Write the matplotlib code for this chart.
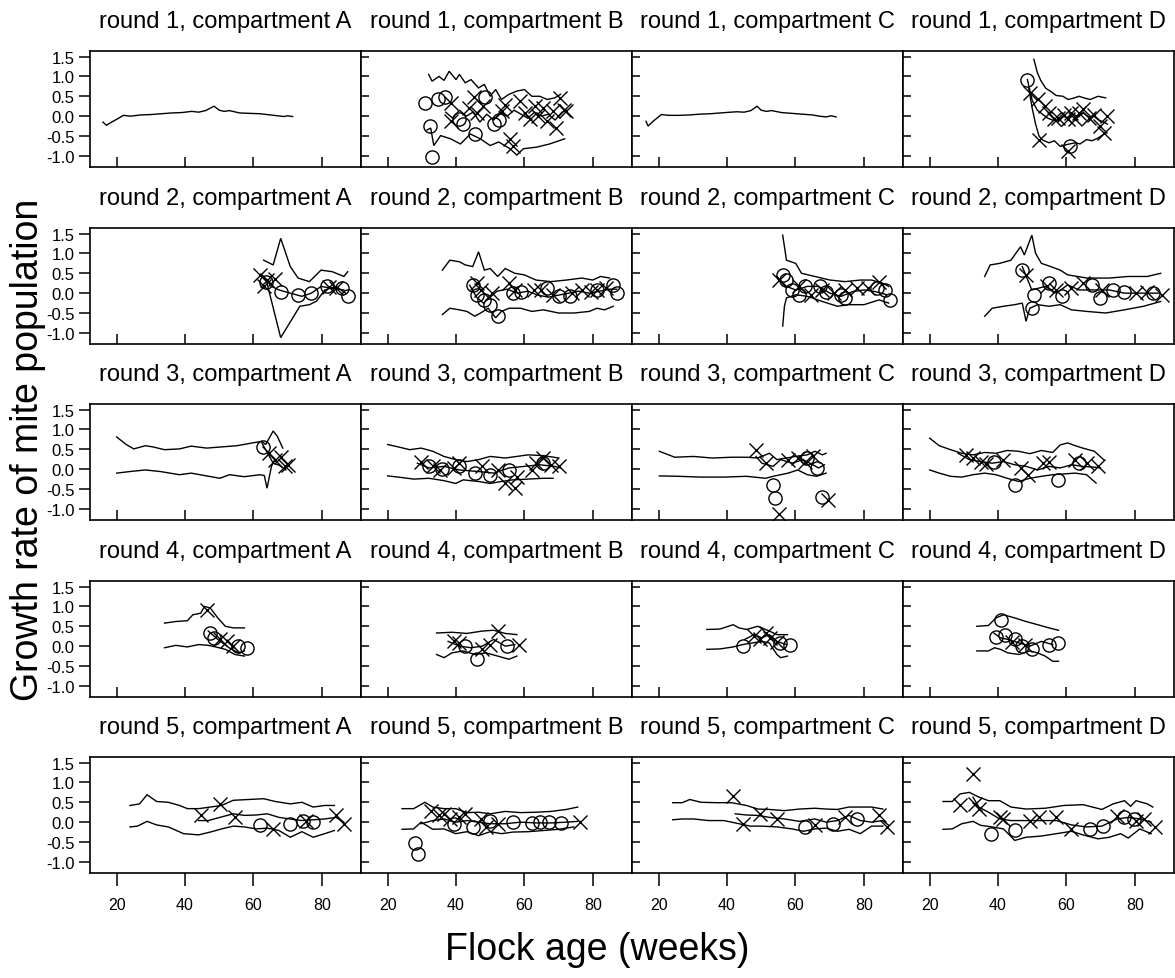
import matplotlib
matplotlib.use('Agg')
import matplotlib.pyplot as plt

plt.rcParams['font.family'] = ['Liberation Sans', 'DejaVu Sans']
plt.rcParams['axes.unicode_minus'] = False

rounds = [1, 2, 3, 4, 5]
compartments = ['A', 'B', 'C', 'D']
x_ticks = [20, 40, 60, 80]
y_ticks = [-1.0, -0.5, 0.0, 0.5, 1.0, 1.5]
y_tick_labels = ['-1.0', '-0.5', '0.0', '0.5', '1.0', '1.5']
x_label = 'Flock age (weeks)'
y_label = 'Growth rate of mite population'

# ---------------- round 1 ----------------
r1A_mid_x = [16, 17, 18.5, 20, 22, 24, 27, 30, 33, 36, 39, 42, 44, 46, 48.5, 50, 51.5, 53, 56, 59, 62, 65, 67, 69, 70, 71.5]
r1A_mid_y = [-0.15, -0.23, -0.15, -0.08, 0.02, 0.0, 0.03, 0.04, 0.06, 0.08, 0.09, 0.12, 0.1, 0.14, 0.25, 0.15, 0.12, 0.14, 0.08, 0.07, 0.06, 0.03, 0.01, -0.01, 0.01, -0.01]

r1B_up_x = [32, 33, 35, 36.5, 38, 40, 41, 42.7, 44.4, 46.6, 48.3, 50, 51.6, 53.3, 55.5, 57.8, 60, 62.2, 64.5, 66.7, 68.9, 70.6]
r1B_up_y = [1.05, 0.88, 1.0, 0.9, 1.13, 0.92, 1.05, 0.84, 0.92, 0.71, 0.8, 0.5, 0.67, 0.42, 0.55, 0.63, 0.67, 0.5, 0.5, 0.42, 0.46, 0.55]
r1B_lo_x = [31.5, 32.6, 33.5, 35.5, 38.4, 41.3, 44.2, 47.1, 50, 52.5, 55.8, 57.8, 59.7, 63.6, 67.4, 71.8]
r1B_lo_y = [-0.35, -0.3, -0.74, -0.49, -0.57, -0.7, -0.45, -0.57, -0.74, -0.65, -0.82, -0.98, -0.82, -0.78, -0.7, -0.57]
r1B_mid_x = [37, 39, 41, 43, 45, 47, 49, 51, 53, 55, 57, 59, 61, 63, 65, 67, 69, 71, 72.5]
r1B_mid_y = [0.1, -0.05, 0.15, 0.0, 0.1, -0.15, 0.05, -0.1, 0.1, 0.0, 0.15, 0.05, -0.05, 0.1, 0.0, 0.05, -0.1, 0.1, 0.15]
r1B_circ_x = [30.8, 32.3, 33.1, 34.7, 36.9, 40.8, 42.1, 45.7, 48.6, 51, 52.5]
r1B_circ_y = [0.33, -0.26, -1.02, 0.43, 0.49, -0.08, -0.2, -0.45, 0.49, -0.2, -0.1]
r1B_cross_x = [38.4, 38.4, 43.7, 45.2, 46.1, 48, 53.4, 54.4, 55.8, 56.8, 58.7, 60.2, 61.6, 63, 64, 65.5, 66.5, 68.4, 69.4, 70.3, 71.5, 72.3]
r1B_cross_y = [0.33, -0.12, 0.2, 0.49, 0.08, 0.25, 0.12, 0.29, -0.57, -0.74, 0.37, 0.08, -0.08, 0.25, 0.0, 0.2, -0.12, 0.12, -0.29, 0.45, 0.15, 0.12]

r1C_mid_x = [16.3, 16.9, 18.5, 20.8, 23, 26, 29, 32, 35, 38, 41, 43, 45, 47, 48.8, 50, 51.5, 53, 56, 59, 62, 65, 67, 69, 70.5, 71.9]
r1C_mid_y = [-0.13, -0.25, -0.12, 0.04, 0.02, 0.02, 0.03, 0.05, 0.06, 0.08, 0.1, 0.11, 0.1, 0.14, 0.25, 0.15, 0.12, 0.14, 0.09, 0.07, 0.05, 0.03, 0.0, -0.02, 0.01, -0.02]

r1D_up_x = [50.5, 51.5, 52.5, 54, 55.5, 57, 59, 60.5, 62, 63.7, 65.5, 67, 69.3, 71.5]
r1D_up_y = [1.43, 1.1, 0.9, 0.7, 0.62, 0.52, 0.5, 0.42, 0.45, 0.5, 0.45, 0.42, 0.5, 0.46]
r1D_lo_x = [49, 50, 51, 52, 53, 54.9, 56.5, 58.2, 60.4, 62.6, 64, 65.9, 67.5, 69.3, 71.5]
r1D_lo_y = [0.7, 0.2, -0.2, -0.5, -0.6, -0.67, -0.62, -0.76, -0.71, -0.67, -0.7, -0.59, -0.62, -0.55, -0.42]
r1D_mid_x = [48.6, 50, 51.5, 53, 54.5, 56, 57.5, 59, 60.5, 62, 63.5, 65, 66.5, 68, 69.5, 71, 72]
r1D_mid_y = [0.92, 0.4, 0.15, 0.05, -0.05, -0.1, -0.12, 0.0, -0.05, 0.05, -0.02, 0.08, -0.02, 0.0, -0.1, -0.15, -0.2]
r1D_circ_x = [48.6, 61]
r1D_circ_y = [0.92, -0.76]
r1D_cross_x = [49.3, 51.6, 52.1, 53.8, 54.9, 56.5, 57.6, 59.3, 60.4, 61.5, 62.6, 63.7, 64.8, 66.5, 68.2, 69.8, 70.9, 72, 60.4]
r1D_cross_y = [0.59, 0.42, -0.59, 0.25, 0.08, -0.08, -0.04, 0.04, -0.08, 0.08, -0.08, 0.08, 0.17, -0.04, 0.04, -0.25, -0.42, 0.0, -0.88]

# ---------------- round 2 ----------------
r2A_up_x = [63, 65.8, 68, 70.8, 73.1, 76.4, 79.8, 83.1, 86.5, 87.6]
r2A_up_y = [0.83, 0.71, 1.38, 0.67, 0.38, 0.29, 0.58, 0.54, 0.42, 0.54]
r2A_lo_x = [64, 68, 73.6, 76.4, 78.5, 80.9, 84.2, 87]
r2A_lo_y = [0.25, -1.12, -0.33, -0.29, -0.2, 0.08, 0.17, 0.0]
r2A_mid_x = [63, 65.3, 67.5, 70.8, 74.2, 77, 79.8, 83.1, 86.5]
r2A_mid_y = [0.42, 0.17, 0.08, 0.0, -0.08, 0.0, 0.17, 0.12, 0.08]
r2A_circ_x = [63.6, 68, 73.1, 77, 81.5, 85.9, 87.6]
r2A_circ_y = [0.29, 0.04, -0.04, 0.0, 0.17, 0.12, -0.08]
r2A_cross_x = [61.9, 63, 64.1, 66.4, 82, 84.2]
r2A_cross_y = [0.46, 0.17, 0.33, 0.35, 0.15, 0.12]

r2B_up_x = [36, 38.2, 41, 42.7, 44.9, 46.6, 48.3, 50, 52.2, 54.4, 57.2, 60, 63.4, 67.8, 72.3, 76.8, 80, 82.3, 85]
r2B_up_y = [0.58, 0.83, 0.79, 0.71, 0.67, 1.04, 0.58, 0.62, 0.42, 0.62, 0.5, 0.46, 0.33, 0.29, 0.33, 0.38, 0.33, 0.42, 0.38]
r2B_lo_x = [36, 38.2, 41, 43.2, 45.5, 47.2, 49.4, 51.6, 53.3, 55.5, 58.9, 62.2, 65.6, 70, 74.5, 79, 81.2, 83.5, 86]
r2B_lo_y = [-0.54, -0.38, -0.42, -0.46, -0.58, -0.5, -0.38, -0.62, -0.46, -0.38, -0.38, -0.46, -0.42, -0.5, -0.5, -0.46, -0.38, -0.42, -0.33]
r2B_mid_x = [44, 46, 48, 50, 52, 55, 58, 61, 64, 67, 70, 73, 76, 79, 82, 85, 87]
r2B_mid_y = [0.2, -0.1, -0.25, -0.1, 0.05, 0.1, 0.0, 0.05, -0.05, -0.1, -0.05, 0.0, 0.05, 0.0, 0.05, 0.1, 0.1]
r2B_circ_x = [45.1, 46, 48.3, 50, 52.2, 56.6, 58.9, 66.7, 70, 73.3, 81.3, 86, 87]
r2B_circ_y = [0.21, -0.04, -0.17, -0.29, -0.58, 0.0, 0.04, 0.12, -0.08, -0.08, 0.08, 0.2, 0.0]
r2B_cross_x = [46, 47.2, 50.5, 55.5, 57.2, 62.8, 65, 68.4, 74, 76.8, 79.5, 81.2, 84]
r2B_cross_y = [0.25, 0.08, 0.0, 0.25, 0.08, 0.08, 0.08, -0.04, 0.0, 0.08, 0.04, 0.08, 0.12]

r2C_up_x = [56.3, 57.4, 60.1, 61.8, 65.7, 70.1, 74.5, 79, 82.3, 85.6, 87.3]
r2C_up_y = [1.46, 0.83, 0.75, 0.5, 0.42, 0.33, 0.29, 0.33, 0.33, 0.25, 0.17]
r2C_lo_x = [56.3, 56.8, 57.4, 60.1, 63.5, 67.9, 72.3, 75.7, 80.1, 84.5, 87.3]
r2C_lo_y = [-0.83, -0.33, -0.12, -0.04, -0.08, -0.21, -0.33, -0.29, -0.29, -0.17, -0.25]
r2C_mid_x = [54.6, 57.4, 60.1, 63.5, 66.8, 70.1, 73.4, 76.8, 80.1, 83.4, 86.7]
r2C_mid_y = [0.42, 0.17, 0.08, 0.17, 0.17, 0.0, -0.08, 0.04, 0.08, 0.04, -0.04]
r2C_circ_x = [56.3, 57.4, 59, 61.2, 62.9, 67.3, 68.9, 73.4, 74.5, 84, 86.2, 87.8]
r2C_circ_y = [0.46, 0.33, 0.08, -0.04, 0.17, 0.17, 0.04, -0.04, -0.12, 0.12, 0.08, -0.17]
r2C_cross_x = [55.2, 61.2, 64.6, 67.9, 71.2, 74.5, 77.9, 81.2, 84.5]
r2C_cross_y = [0.33, 0.17, -0.04, 0.08, 0.0, 0.08, 0.12, 0.12, 0.29]

r2D_up_x = [36.1, 37.7, 40.5, 43.8, 46.6, 47.7, 49.9, 51, 52.7, 55.4, 58.2, 60.4, 66, 72.6, 78.1, 83.7, 87.6]
r2D_up_y = [0.42, 0.71, 0.75, 0.83, 1.17, 0.96, 1.46, 1.0, 0.75, 0.67, 0.58, 0.46, 0.38, 0.38, 0.42, 0.42, 0.5]
r2D_lo_x = [36.1, 38.3, 41.6, 44.9, 47.1, 48.2, 49.3, 51.6, 54.9, 58.2, 61.5, 66, 71.5, 77, 82.6, 87.6]
r2D_lo_y = [-0.58, -0.38, -0.33, -0.29, -0.25, -0.71, -0.38, -0.29, -0.33, -0.29, -0.42, -0.46, -0.5, -0.42, -0.33, -0.21]
r2D_mid_x = [47.1, 49.9, 53.8, 57.1, 60.4, 63.7, 68.2, 72.6, 77, 81.5, 87]
r2D_mid_y = [0.67, 0.08, 0.17, 0.0, 0.21, 0.08, 0.08, 0.08, 0.0, 0.0, 0.0]
r2D_circ_x = [47.1, 49.9, 50.5, 54.9, 58.8, 67.6, 69.8, 73.7, 77, 85.3]
r2D_circ_y = [0.58, -0.38, -0.04, 0.25, -0.08, 0.21, -0.12, 0.08, 0.04, 0.0]
r2D_cross_x = [48.2, 54.3, 57.1, 61.5, 64.8, 70.4, 80.4, 83.7, 88]
r2D_cross_y = [0.46, 0.17, 0.08, 0.12, 0.25, 0.08, 0.0, 0.04, -0.04]

# ---------------- round 3 ----------------
r3A_up_x = [20, 22.8, 25, 28.4, 30.6, 34, 38.4, 41.8, 46.3, 50.7, 55.2, 59.7, 62.5, 63.6, 65.8, 67, 68.6]
r3A_up_y = [0.81, 0.62, 0.51, 0.59, 0.56, 0.49, 0.51, 0.58, 0.53, 0.56, 0.59, 0.66, 0.7, 0.62, 0.96, 0.83, 0.53]
r3A_lo_x = [20, 23.9, 28.4, 32.8, 38.4, 41.8, 46.3, 50.2, 53, 57.4, 61.9, 63.2, 64, 65.3, 66]
r3A_lo_y = [-0.1, -0.06, -0.02, -0.06, -0.14, -0.1, -0.17, -0.23, -0.14, -0.19, -0.14, -0.16, -0.48, 0.07, 0.2]
r3A_mid_x = [62.5, 64.1, 65.8, 67.5, 69.5]
r3A_mid_y = [0.66, 0.41, 0.15, 0.1, -0.02]
r3A_circ_x = [62.8]
r3A_circ_y = [0.56]
r3A_cross_x = [64.7, 66.4, 68, 69.2, 70]
r3A_cross_y = [0.41, 0.24, 0.3, 0.07, 0.1]

r3B_up_x = [20, 23.1, 26.5, 29.8, 33.2, 36.5, 39.9, 43.2, 46.6, 50, 54.4, 57.8, 61.1, 65.6, 70.1]
r3B_up_y = [0.62, 0.56, 0.49, 0.53, 0.45, 0.32, 0.24, 0.19, 0.24, 0.32, 0.28, 0.32, 0.36, 0.34, 0.28]
r3B_lo_x = [20, 23.1, 27.6, 32.1, 36.5, 39.9, 42.1, 46.6, 50, 53.3, 56.6, 61.1, 65.6, 68.4]
r3B_lo_y = [-0.17, -0.2, -0.25, -0.23, -0.29, -0.36, -0.27, -0.31, -0.36, -0.31, -0.27, -0.25, -0.23, -0.23]
r3B_mid_x = [28.7, 32.1, 36.5, 41, 46.6, 51.1, 55.5, 60, 64.5, 68.9, 70.6]
r3B_mid_y = [0.15, 0.03, 0.07, -0.02, -0.06, -0.1, 0.03, 0.07, 0.11, 0.07, 0.03]
r3B_circ_x = [32.1, 36, 41, 45.5, 50, 55.5, 65.6]
r3B_circ_y = [0.07, 0.0, 0.07, -0.1, -0.14, -0.02, 0.15]
r3B_cross_x = [29.8, 33.2, 35.4, 39.3, 41, 47.7, 52.2, 54.4, 57.2, 57.8, 62.2, 63.4, 65.6, 67.8, 70.1]
r3B_cross_y = [0.19, 0.07, -0.02, 0.02, 0.15, 0.07, -0.02, -0.36, -0.48, -0.19, -0.02, 0.15, 0.28, 0.11, 0.07]

r3C_up_x = [20.2, 24.7, 30.2, 35.7, 41.3, 45.7, 49, 52.4, 54.6, 57.4, 60.1, 63.5, 65.7, 67.9, 69]
r3C_up_y = [0.45, 0.3, 0.32, 0.28, 0.3, 0.3, 0.28, 0.4, 0.24, 0.28, 0.32, 0.36, 0.45, 0.36, 0.4]
r3C_lo_x = [20.2, 25.8, 32.4, 39.1, 45.7, 51.3, 53.5, 55.7, 57.9, 60.7, 63.5, 66.2, 69]
r3C_lo_y = [-0.17, -0.18, -0.2, -0.2, -0.18, -0.23, -0.18, -0.14, -0.1, -0.02, -0.14, -0.18, -0.1]
r3C_mid_x = [48.5, 50.2, 53.5, 55.7, 59, 62.3, 66.8, 68.5]
r3C_mid_y = [0.32, 0.15, 0.07, 0.24, 0.15, 0.24, 0.03, 0.11]
r3C_circ_x = [53.5, 54, 63.5, 66.2, 67.9]
r3C_circ_y = [-0.39, -0.73, 0.28, 0.03, -0.69]
r3C_cross_x = [48.5, 51.3, 57.9, 60.7, 62.9, 65.1, 55.2, 69.6]
r3C_cross_y = [0.49, 0.15, 0.24, 0.28, 0.19, 0.32, -1.13, -0.77]

r3D_up_x = [20, 22.8, 26.1, 29.4, 32.7, 36.1, 39.4, 42.7, 46, 49.3, 52.7, 56, 58.2, 60.4, 62.6, 64.8, 68.2, 70.9]
r3D_up_y = [0.78, 0.59, 0.49, 0.4, 0.36, 0.42, 0.4, 0.47, 0.45, 0.39, 0.47, 0.42, 0.61, 0.66, 0.59, 0.53, 0.45, 0.24]
r3D_lo_x = [20, 22.8, 26.1, 29.4, 32.7, 36.1, 39.4, 42.7, 46, 49.3, 52.7, 56, 59.3, 62.6, 65.9, 68.7]
r3D_lo_y = [-0.02, -0.1, -0.18, -0.2, -0.14, -0.1, -0.14, -0.23, -0.31, -0.23, -0.18, -0.14, -0.12, -0.1, -0.14, -0.35]
r3D_mid_x = [28.3, 31.6, 34.9, 38.3, 41.6, 44.9, 48.2, 51.6, 54.9, 58.2, 61.5, 64.8, 68.2, 70]
r3D_mid_y = [0.4, 0.24, 0.19, 0.15, 0.19, 0.11, 0.07, -0.02, 0.07, 0.03, 0.11, 0.07, 0.05, 0.03]
r3D_circ_x = [38.8, 44.9, 57.6, 63.7]
r3D_circ_y = [0.19, -0.39, -0.27, 0.15]
r3D_cross_x = [30.5, 32.7, 34.9, 36.5, 41.6, 46.6, 48.8, 53.2, 54.9, 62.6, 65.9, 69.3]
r3D_cross_y = [0.36, 0.28, 0.19, 0.12, 0.24, 0.03, -0.14, 0.15, 0.19, 0.24, 0.15, 0.07]

# ---------------- round 4 ----------------
r4A_up_x = [34, 37.3, 40.7, 42.3, 44.6, 45.7, 47.4, 49.6, 51.8, 54.1, 57.4]
r4A_up_y = [0.58, 0.62, 0.64, 0.79, 0.83, 1.0, 0.96, 0.71, 0.5, 0.46, 0.46]
r4A_lo_x = [34, 37.3, 40.7, 44, 46.8, 49, 51.8, 54.6, 57.4]
r4A_lo_y = [-0.04, 0.02, -0.02, 0.04, 0.02, -0.02, -0.08, -0.21, -0.25]
r4A_mid_x = [46.8, 49.6, 52.9, 55.7, 57.4]
r4A_mid_y = [0.38, 0.17, -0.04, -0.17, -0.12]
r4A_circ_x = [47.2, 48.5, 55.5, 58]
r4A_circ_y = [0.33, 0.21, 0.0, -0.04]
r4A_cross_x = [46.3, 50.2, 52.4, 54.1]
r4A_cross_y = [0.92, 0.17, 0.12, 0.0]

r4B_up_x = [34.3, 38.8, 43.2, 47.7, 51, 54.4, 57.8]
r4B_up_y = [0.33, 0.35, 0.32, 0.38, 0.4, 0.32, 0.29]
r4B_lo_x = [34.3, 36.5, 38.8, 42.1, 45.5, 48.8, 52.2, 55.5, 57.8]
r4B_lo_y = [-0.21, -0.29, -0.17, -0.12, -0.21, -0.17, -0.25, -0.33, -0.25]
r4B_mid_x = [37.7, 41, 44.4, 47.7, 51, 54.4, 57.2]
r4B_mid_y = [0.12, 0.0, -0.04, 0.0, 0.17, 0.0, 0.04]
r4B_circ_x = [42.7, 46, 55]
r4B_circ_y = [0.0, -0.33, 0.0]
r4B_cross_x = [39.3, 41, 47.7, 50, 52.2, 58.3]
r4B_cross_y = [0.12, 0.08, -0.08, 0.04, 0.38, 0.04]

r4C_up_x = [34.1, 37.9, 41.8, 43.5, 45.7, 49, 52.4, 54.6, 57.7]
r4C_up_y = [0.42, 0.43, 0.54, 0.46, 0.42, 0.5, 0.38, 0.29, 0.29]
r4C_lo_x = [34.1, 37.9, 41.8, 44.6, 47.4, 50.2, 52.4, 54.6, 55.7, 57.7]
r4C_lo_y = [-0.08, -0.07, -0.02, 0.04, 0.08, 0.12, 0.08, -0.21, -0.29, -0.25]
r4C_mid_x = [45.2, 47.9, 50.2, 52.4, 54.6, 57.4]
r4C_mid_y = [0.17, 0.29, 0.21, 0.29, 0.12, 0.04]
r4C_circ_x = [44.8, 55.5, 58.5]
r4C_circ_y = [0.0, 0.08, 0.04]
r4C_cross_x = [47.9, 49.6, 51.3, 52.5, 54.6]
r4C_cross_y = [0.25, 0.17, 0.33, 0.2, 0.1]

r4D_up_x = [33.8, 37.2, 39.4, 41.6, 44.9, 48.2, 51.6, 54.9, 57.7]
r4D_up_y = [0.5, 0.52, 0.71, 0.79, 0.71, 0.62, 0.54, 0.46, 0.4]
r4D_lo_x = [33.8, 37.2, 39, 40.7, 42.9, 46.2, 49.3, 51.6, 53.8, 56, 57.7]
r4D_lo_y = [-0.12, -0.12, -0.04, -0.08, -0.17, -0.21, -0.12, -0.17, -0.25, -0.38, -0.38]
r4D_mid_x = [38.8, 40.7, 42.9, 46.2, 49.3, 52.7, 56]
r4D_mid_y = [0.33, 0.21, 0.17, 0.08, 0.0, 0.12, 0.04]
r4D_circ_x = [40.8, 39.4, 42.1, 44.9, 46.9, 49.9, 54.9, 57.7]
r4D_circ_y = [0.65, 0.23, 0.27, 0.17, 0.0, -0.07, 0.02, 0.08]
r4D_cross_x = [44, 48]
r4D_cross_y = [0.1, 0.02]

# ---------------- round 5 ----------------
r5A_up_x = [23.9, 26.7, 28.9, 31.7, 35.1, 38.4, 40.7, 44, 47.4, 50.7, 54.1, 58.5, 63, 66.4, 70.8, 74.2, 77.5, 80.9, 83.7]
r5A_up_y = [0.42, 0.46, 0.69, 0.52, 0.5, 0.42, 0.34, 0.34, 0.38, 0.42, 0.55, 0.57, 0.59, 0.52, 0.46, 0.5, 0.38, 0.42, 0.42]
r5A_lo_x = [23.9, 26.1, 28.9, 31.7, 35.1, 39.6, 44, 47.4, 50.7, 54.1, 57.4, 60.8, 64.1, 67.5, 70.8, 74.2, 77.5, 80.9, 83.7]
r5A_lo_y = [-0.12, -0.1, 0.02, -0.07, -0.12, -0.29, -0.32, -0.25, -0.17, -0.1, -0.12, -0.17, -0.15, -0.21, -0.38, -0.24, -0.38, -0.29, -0.21]
r5A_mid_x = [44, 46.8, 50.2, 54.1, 57.4, 60.8, 64.1, 67.5, 70.8, 74.2, 77.5, 80.9, 84.2, 86.5]
r5A_mid_y = [0.04, 0.04, 0.12, 0.21, 0.17, 0.18, 0.21, 0.12, 0.08, 0.04, 0.06, 0.08, 0.12, 0.0]
r5A_circ_x = [61.9, 70.8, 74.5, 77.5]
r5A_circ_y = [-0.08, -0.04, 0.02, 0.0]
r5A_cross_x = [44.6, 50.2, 54.6, 65.8, 75.3, 84.2, 86.5]
r5A_cross_y = [0.17, 0.46, 0.12, -0.17, 0.04, 0.17, -0.04]

r5B_up_x = [24.2, 27.6, 30.9, 33.2, 36.5, 39.9, 43.2, 46.6, 50, 54.4, 58.9, 63.4, 67.8, 72.3, 75.6]
r5B_up_y = [0.34, 0.34, 0.5, 0.38, 0.34, 0.34, 0.24, 0.25, 0.21, 0.27, 0.24, 0.25, 0.27, 0.32, 0.38]
r5B_lo_x = [24.2, 27.6, 29.8, 33.2, 36.5, 39.9, 43.2, 46.6, 50, 53.3, 56.6, 61.1, 65.6, 70, 74.5]
r5B_lo_y = [-0.18, -0.17, 0.0, -0.18, -0.17, -0.29, -0.24, -0.34, -0.24, -0.29, -0.25, -0.24, -0.21, -0.18, -0.12]
r5B_mid_x = [29.8, 33.2, 36.5, 39.9, 43.2, 46.6, 50, 54.4, 58.9, 63.4, 67.8, 72.3, 75.6]
r5B_mid_y = [-0.04, 0.04, 0.08, 0.0, 0.04, 0.0, -0.04, -0.04, 0.0, -0.02, -0.02, 0.0, 0.02]
r5B_circ_x = [27.9, 29, 39.3, 44.9, 50, 56.6, 62.2, 64.5, 67.3, 70.6]
r5B_circ_y = [-0.52, -0.8, -0.04, -0.12, 0.02, 0.0, -0.02, 0.0, 0.0, -0.02]
r5B_cross_x = [32.6, 34.9, 36.5, 38.2, 41, 42.7, 47.2, 48.8, 52.2, 76.2]
r5B_cross_y = [0.29, 0.17, 0.21, 0.08, 0.12, 0.21, 0.08, -0.12, -0.04, 0.0]

r5C_up_x = [24.1, 26.9, 29.1, 32.4, 36.9, 41.3, 45.7, 49, 52.4, 56.8, 61.2, 65.7, 69, 72.3, 75.7, 79, 82.3, 85.6]
r5C_up_y = [0.49, 0.49, 0.57, 0.5, 0.49, 0.49, 0.42, 0.33, 0.32, 0.29, 0.33, 0.35, 0.33, 0.32, 0.38, 0.38, 0.38, 0.33]
r5C_lo_x = [24.1, 26.9, 30.2, 34.6, 39.1, 43.5, 46.8, 50.2, 54.6, 59, 62.4, 65.7, 69, 72.3, 75.7, 79, 82.3, 85.6]
r5C_lo_y = [0.06, 0.08, 0.08, 0.04, 0.04, -0.04, -0.1, -0.1, -0.12, -0.17, -0.23, -0.17, -0.15, -0.23, -0.18, -0.29, -0.1, -0.1]
r5C_mid_x = [42.4, 45.7, 49, 52.4, 56.8, 61.2, 65.7, 69, 72.3, 75.7, 79, 82.3, 85.6, 87.3]
r5C_mid_y = [0.21, 0.18, 0.17, 0.12, 0.08, 0.02, 0.08, 0.0, 0.04, 0.17, 0.04, 0.0, 0.04, -0.08]
r5C_circ_x = [62.9, 71, 77.9]
r5C_circ_y = [-0.12, -0.04, 0.07]
r5C_cross_x = [41.8, 44.6, 49.6, 54.6, 65.7, 74.5, 84.5, 86.7]
r5C_cross_y = [0.67, -0.04, 0.21, 0.08, -0.08, 0.12, 0.18, -0.12]

r5D_up_x = [23.9, 26.6, 28.9, 31.6, 34.4, 37.2, 40.5, 43.8, 48.2, 53.8, 59.3, 64.9, 70.4, 73.7, 77, 78.8, 80.4, 83.7, 85.3]
r5D_up_y = [0.52, 0.52, 0.71, 0.75, 0.63, 0.54, 0.54, 0.38, 0.33, 0.35, 0.42, 0.44, 0.32, 0.46, 0.54, 0.4, 0.54, 0.46, 0.38]
r5D_lo_x = [23.9, 26.6, 29.4, 32.7, 34.9, 38.3, 41.6, 44.9, 48.2, 52.7, 57.1, 61.5, 64.8, 69.3, 72.6, 75.9, 78.1, 81.5, 84.8]
r5D_lo_y = [-0.18, -0.17, -0.04, 0.02, -0.08, -0.12, -0.17, -0.46, -0.38, -0.35, -0.29, -0.23, -0.32, -0.42, -0.38, -0.29, -0.4, -0.17, -0.29]
r5D_mid_x = [32.7, 34.4, 37.2, 40.5, 43.8, 48.2, 52.7, 57.1, 61.5, 65.9, 70.4, 74.8, 78.1, 81.5, 84.8]
r5D_mid_y = [0.63, 0.38, 0.25, 0.08, 0.04, 0.04, 0.04, 0.04, -0.07, -0.12, -0.1, 0.08, 0.12, 0.08, 0.0]
r5D_circ_x = [38, 44.9, 66.8, 70.7, 77, 79.8]
r5D_circ_y = [-0.29, -0.21, -0.17, -0.1, 0.12, 0.08]
r5D_cross_x = [32.7, 28.9, 33.3, 34.4, 40.5, 41.6, 49.3, 52.1, 57.1, 61.5, 74.8, 80.4, 82.6, 85.9]
r5D_cross_y = [1.21, 0.42, 0.46, 0.33, 0.12, 0.08, 0.04, 0.12, 0.12, -0.17, 0.15, 0.04, 0.08, -0.12]

# ---------------- layout ----------------
W, H = 1175, 979
col_left = [90, 361, 632, 903]
row_top = [52, 229, 405, 582, 758]
pw, ph = 271, 116
xlim = (12.2, 91.5)
ylim = (-1.28, 1.64)

g = globals()


def get(r, c, kind):
    kx = g.get(f'r{r}{c}_{kind}_x')
    ky = g.get(f'r{r}{c}_{kind}_y')
    return kx, ky


fig = plt.figure(figsize=(W / 100, H / 100), dpi=100)

for ri, r in enumerate(rounds):
    for ci, c in enumerate(compartments):
        ax = fig.add_axes([col_left[ci] / W, 1 - (row_top[ri] + ph) / H, pw / W, ph / H])
        for kind in ['up', 'lo', 'mid']:
            xs, ys = get(r, c, kind)
            if xs is not None:
                ax.plot(xs, ys, color='black', lw=1.0, solid_joinstyle='miter')
        xs, ys = get(r, c, 'circ')
        if xs is not None:
            ax.plot(xs, ys, 'o', ms=9.5, mfc='none', mec='black', mew=1.0)
        xs, ys = get(r, c, 'cross')
        if xs is not None:
            ax.plot(xs, ys, 'x', ms=9.5, mec='black', mew=1.0)
        ax.set_xlim(*xlim)
        ax.set_ylim(*ylim)
        for s in ax.spines.values():
            s.set_linewidth(1.2)
        ax.set_yticks(y_ticks)
        ax.set_xticks(x_ticks)
        if ci == 0:
            ax.set_yticklabels(y_tick_labels)
            ax.tick_params(axis='y', direction='out', length=8, width=1.1,
                           labelsize=12, pad=3)
        else:
            ax.tick_params(axis='y', direction='in', length=6, width=1.1,
                           labelleft=False)
        if ri == len(rounds) - 1:
            ax.set_xticklabels([str(t) for t in x_ticks])
            ax.tick_params(axis='x', direction='out', length=9, width=1.1,
                           labelsize=11.5, pad=8)
        else:
            ax.tick_params(axis='x', direction='in', length=7, width=1.1,
                           labelbottom=False)
        fig.text((col_left[ci] + pw / 2) / W, 1 - (row_top[ri] - 30) / H,
                 f'round {r}, compartment {c}', ha='center', va='center',
                 fontsize=17)

fig.text(597 / W, 1 - 950 / H, x_label, ha='center', va='center', fontsize=27)
fig.text(28 / W, 1 - 450 / H, y_label, ha='center', va='center',
         rotation=90, fontsize=27)

fig.savefig('out.png', dpi=100)
